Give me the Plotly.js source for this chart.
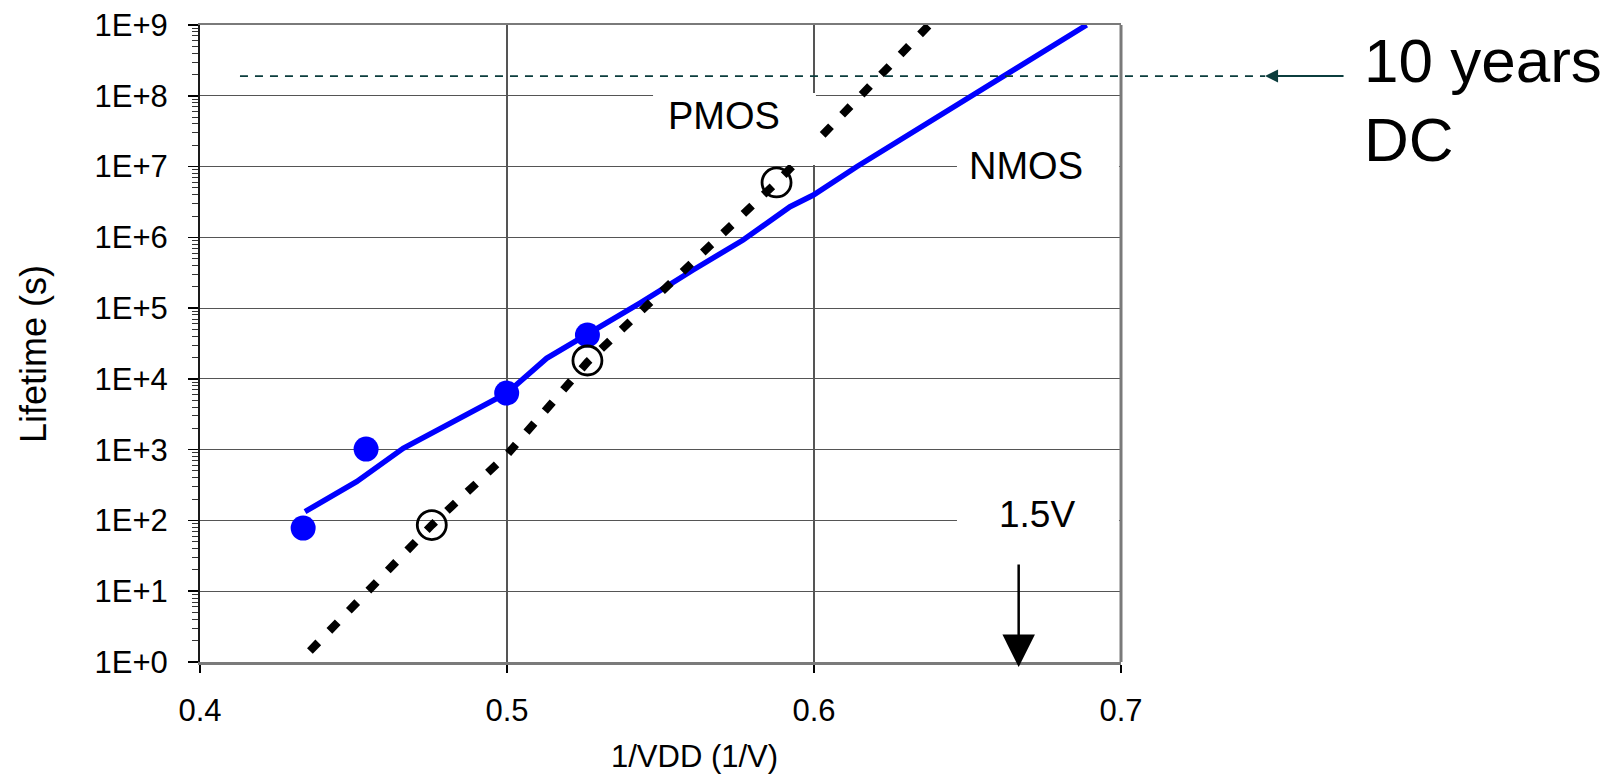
<!DOCTYPE html>
<html>
<head>
<meta charset="utf-8">
<script src="https://cdn.plot.ly/plotly-3.0.1.min.js"></script>
<style>
  html, body { margin: 0; padding: 0; background: #ffffff; }
  #chart { width: 1623px; height: 779px; }
</style>
</head>
<body>
<div id="chart"></div>
<script>
// ---- data ----
const nmosX = [0.4336, 0.4541, 0.4999, 0.5262];
const nmosLifetime = [78, 1020, 6300, 41700];

const pmosX = [0.4755, 0.5262, 0.5878];
const pmosLifetime = [86, 18200, 5.96e6];

const nmosFitX = [0.4342, 0.4510, 0.4662, 0.4999, 0.5129, 0.5260, 0.5433, 0.5606, 0.5769, 0.5922, 0.5998, 0.6139, 0.6378, 0.6616, 0.6888];
const nmosFitLifetime = [133, 353, 1046, 6270, 19500, 41700, 118000, 346000, 917000, 2.71e6, 3.96e6, 9.95e6, 4.30e7, 1.86e8, 1e9];

const pmosFitX = [0.4358, 0.4755, 0.4999, 0.5262, 0.5878, 0.6375];
const pmosFitLifetime = [1.43, 86, 841, 17300, 5.96e6, 1e9];

const tenYearLifetime = 1.9e8;
const vdd15 = 1 / 1.5;

const xTickVals = [0.4, 0.5, 0.6, 0.7];
const xTickText = ["0.4", "0.5", "0.6", "0.7"];
const yTickVals = [1, 10, 100, 1e3, 1e4, 1e5, 1e6, 1e7, 1e8, 1e9];
const yTickText = ["1E+0", "1E+1", "1E+2", "1E+3", "1E+4", "1E+5", "1E+6", "1E+7", "1E+8", "1E+9"];

// minor log ticks (2..9 in each decade)
const yMinorVals = [];
for (let d = 0; d < 9; d++) for (let k = 2; k <= 9; k++) yMinorVals.push(k * Math.pow(10, d));

const FONT = "Liberation Sans, Arial, Helvetica, sans-serif";
const TEAL = "#0b3d3d";

const traces = [
  { x: nmosFitX, y: nmosFitLifetime, type: "scatter", mode: "lines",
    line: { color: "#0000ff", width: 5.5 }, hoverinfo: "skip", showlegend: false },
  { x: pmosFitX, y: pmosFitLifetime, type: "scatter", mode: "lines",
    line: { color: "#000000", width: 8, dash: "12px,16px" }, hoverinfo: "skip", showlegend: false },
  { x: nmosX, y: nmosLifetime, type: "scatter", mode: "markers",
    marker: { color: "#0000ff", size: 25, line: { width: 0 } }, showlegend: false },
  { x: pmosX, y: pmosLifetime, type: "scatter", mode: "markers",
    marker: { symbol: "circle-open", color: "#000000", size: 29, line: { width: 2.8, color: "#000000" } }, showlegend: false }
];

const tenYearPaperY = Math.log10(tenYearLifetime) / 9;

const layout = {
  width: 1623, height: 779,
  margin: { l: 200, r: 502, t: 25, b: 117 },
  paper_bgcolor: "#ffffff", plot_bgcolor: "#ffffff",
  font: { family: FONT, color: "#000000" },
  showlegend: false,
  xaxis: {
    type: "linear", range: [0.4, 0.7],
    tickmode: "array", tickvals: xTickVals, ticktext: xTickText,
    ticks: "outside", ticklen: 8, tickwidth: 1.5, tickcolor: "#000000",
    ticklabelstandoff: 11,
    tickfont: { size: 31, family: FONT },
    showgrid: true, gridcolor: "#555555", gridwidth: 1.2,
    zeroline: false,
    showline: true, linecolor: "#7a7a7a", linewidth: 2.5, mirror: true
  },
  yaxis: {
    type: "log", range: [0, 9],
    tickmode: "array", tickvals: yTickVals, ticktext: yTickText,
    ticks: "outside", ticklen: 10, tickwidth: 1.5, tickcolor: "#000000",
    ticklabelstandoff: 14,
    tickfont: { size: 31, family: FONT },
    showgrid: true, gridcolor: "#555555", gridwidth: 1.2,
    zeroline: false,
    showline: true, linecolor: "#1a1a1a", linewidth: 2,
    minor: { tickmode: "array", tickvals: yMinorVals, ticks: "outside", ticklen: 6, tickwidth: 1, tickcolor: "#333333", showgrid: false }
  },
  shapes: [
    { type: "line", xref: "paper", yref: "paper", x0: 1, x1: 1, y0: 0, y1: 1,
      line: { color: "#7a7a7a", width: 3 }, layer: "above" },
    { type: "line", xref: "paper", yref: "paper", x0: 0.0434, x1: 1.1564, y0: tenYearPaperY, y1: tenYearPaperY,
      line: { color: TEAL, width: 1.8, dash: "8px,7px" }, layer: "above" },
    { type: "rect", xref: "paper", yref: "paper", x0: 0.4919, x1: 0.6688, y0: 0.7802, y1: 0.8933,
      fillcolor: "#ffffff", line: { width: 0 }, layer: "above" },
    { type: "rect", xref: "paper", yref: "paper", x0: 0.8219, x1: 0.9978, y0: 0.7331, y1: 0.8195,
      fillcolor: "#ffffff", line: { width: 0 }, layer: "above" },
    { type: "rect", xref: "paper", yref: "paper", x0: 0.8219, x1: 0.9978, y0: 0.1837, y1: 0.2669,
      fillcolor: "#ffffff", line: { width: 0 }, layer: "above" }
  ],
  annotations: [
    { text: "PMOS", xref: "paper", yref: "paper", x: 0.5689, y: 0.8564, xanchor: "center", yanchor: "middle",
      showarrow: false, font: { size: 38, family: FONT, color: "#000000" } },
    { text: "NMOS", xref: "paper", yref: "paper", x: 0.8969, y: 0.7786, xanchor: "center", yanchor: "middle",
      showarrow: false, font: { size: 38, family: FONT, color: "#000000" } },
    { text: "1.5V", xref: "paper", yref: "paper", x: 0.9088, y: 0.2308, xanchor: "center", yanchor: "middle",
      showarrow: false, font: { size: 37, family: FONT, color: "#000000" } },
    { text: "", xref: "x", yref: "paper", x: vdd15, y: -0.0078,
      showarrow: true, axref: "pixel", ayref: "pixel", ax: 0, ay: -104,
      arrowhead: 2, arrowsize: 2.6, arrowwidth: 2.5, arrowcolor: "#000000" },
    { text: "", xref: "paper", yref: "paper", x: 1.1564, y: tenYearPaperY,
      showarrow: true, axref: "pixel", ayref: "pixel", ax: 80, ay: 0,
      arrowhead: 2, arrowsize: 1.3, arrowwidth: 2, arrowcolor: TEAL },
    { text: "10 years", xref: "paper", yref: "paper", x: 1.2617, y: 0.945, xanchor: "left", yanchor: "middle",
      showarrow: false, font: { size: 62, family: FONT, color: "#000000" } },
    { text: "DC", xref: "paper", yref: "paper", x: 1.2617, y: 0.821, xanchor: "left", yanchor: "middle",
      showarrow: false, font: { size: 62, family: FONT, color: "#000000" } },
    { text: "Lifetime (s)", xref: "paper", yref: "paper", x: -0.1813, y: 0.4835, xanchor: "center", yanchor: "middle",
      textangle: -90, showarrow: false, font: { size: 36, family: FONT, color: "#000000" } },
    { text: "1/VDD (1/V)", xref: "paper", yref: "paper", x: 0.5364, y: -0.148, xanchor: "center", yanchor: "middle",
      showarrow: false, font: { size: 31, family: FONT, color: "#000000" } }
  ]
};

Plotly.newPlot("chart", traces, layout, { staticPlot: true, displayModeBar: false });
</script>
</body>
</html>
